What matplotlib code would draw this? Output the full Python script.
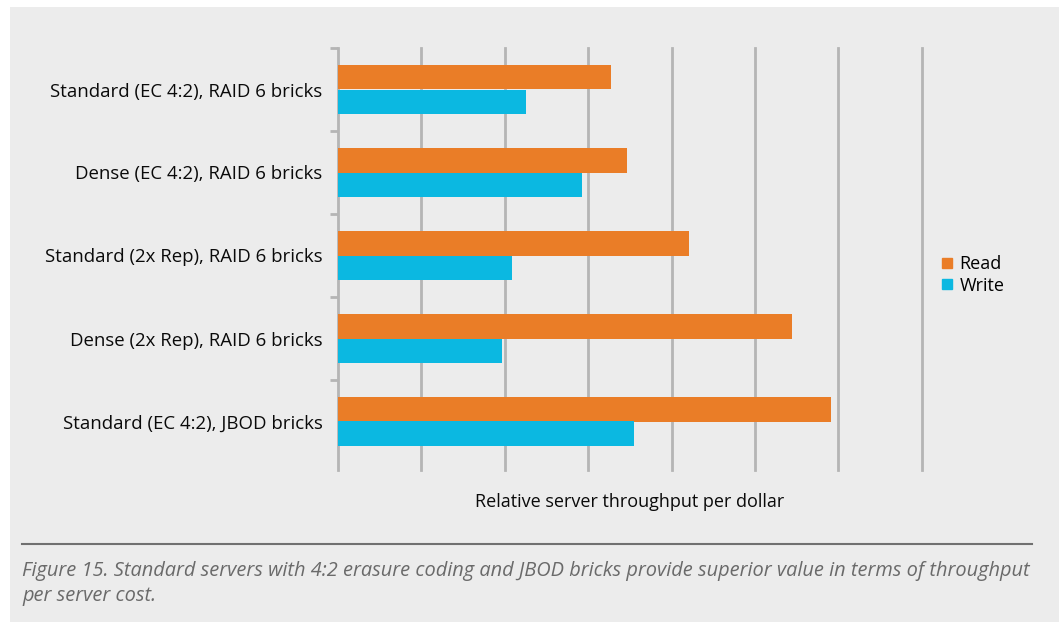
import numpy as np
import matplotlib.pyplot as plt
import matplotlib as mpl
from matplotlib.patches import Rectangle
from matplotlib.lines import Line2D

mpl.rcParams['font.family'] = ['Open Sans', 'DejaVu Sans']

categories = ['Standard (EC 4:2), RAID 6 bricks',
              'Dense (EC 4:2), RAID 6 bricks',
              'Standard (2x Rep), RAID 6 bricks',
              'Dense (2x Rep), RAID 6 bricks',
              'Standard (EC 4:2), JBOD bricks']
read_vals = [3.27, 3.46, 4.21, 5.44, 5.91]
write_vals = [2.26, 2.93, 2.09, 1.97, 3.55]
series = ['Read', 'Write']
colors = ['#ea7d27', '#0bb8e1']

caption = ('Figure 15. Standard servers with 4:2 erasure coding and JBOD bricks provide '
           'superior value in terms of throughput\nper server cost.')

bg = '#ececec'
W, H = 1059, 622
fig = plt.figure(figsize=(W / 100, H / 100), dpi=100)
fig.patch.set_facecolor('white')
# grey panel behind everything, white margin at top and left
fig.patches.append(Rectangle((10 / W, 0), 1, 1 - 7 / H, transform=fig.transFigure,
                             facecolor=bg, edgecolor='none', zorder=-10))

ax = fig.add_axes([338 / W, 1 - 470 / H, (921.7 - 338) / W, (470 - 48) / H])
ax.set_facecolor(bg)

y = np.arange(len(categories))
h = 0.29
ax.barh(y - h / 2, read_vals, height=h, color=colors[0], label=series[0], zorder=3)
ax.barh(y + h / 2, write_vals, height=h, color=colors[1], label=series[1], zorder=3)

ax.set_xlim(0, 7)
ax.set_ylim(-0.5 + (470 - 48) / 83, -0.5)

for s in ['top', 'right', 'bottom']:
    ax.spines[s].set_visible(False)
ax.spines['left'].set_color('#b5b5b5')
ax.spines['left'].set_linewidth(2)

ax.set_xticks(np.arange(1, 8))
ax.set_xticklabels([])
ax.tick_params(axis='x', length=0)
ax.grid(True, axis='x', color='#b5b5b5', linewidth=2, zorder=0)
for gl in ax.get_xgridlines():
    gl.set_clip_on(False)

ax.set_yticks(y)
ax.set_yticklabels(categories, fontsize=13.4, color='#0a0a0a')
ax.tick_params(axis='y', which='major', length=0, pad=11)
ax.set_yticks(np.arange(-0.5, len(categories) - 1, 1), minor=True)
ax.tick_params(axis='y', which='minor', length=6, width=2, color='#b5b5b5')

ax.set_xlabel('Relative server throughput per dollar', fontsize=13, color='#0a0a0a', labelpad=13)

handles = [Line2D([], [], marker='s', linestyle='none', markersize=7.5, color=c) for c in colors]
ax.legend(handles, series, loc='center left', bbox_to_anchor=(920 / W, 1 - 275 / H),
          bbox_transform=fig.transFigure, frameon=False,
          prop={'size': 13},
          handletextpad=0.1, labelspacing=0.2, handlelength=1.2)

fig.add_artist(Line2D([22 / W, 1032 / W], [1 - 543.5 / H] * 2, transform=fig.transFigure,
                      color='#707070', linewidth=1.5))
fig.text(22 / W, 1 - 561 / H, caption, ha='left', va='top', fontsize=14.4, style='italic',
         color='#6a6a6a', linespacing=1.35)

plt.savefig('out.png', dpi=100, facecolor=fig.get_facecolor())
